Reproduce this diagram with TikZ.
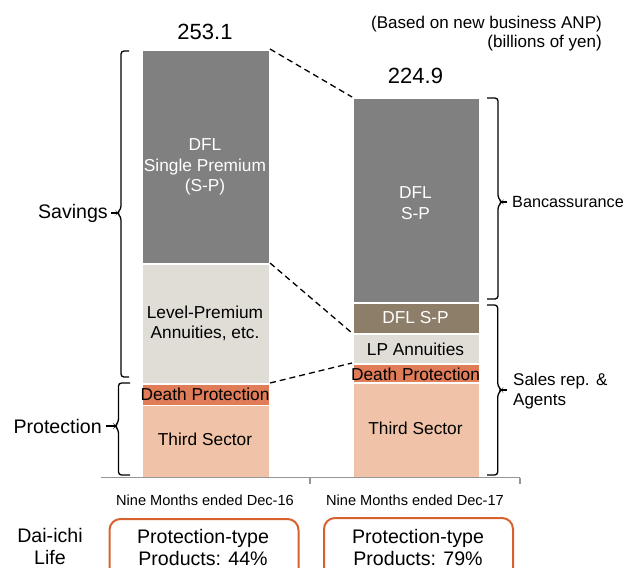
\documentclass[tikz,border=0pt]{standalone}
\usepackage{fontspec}
\setmainfont{Liberation Sans}
\definecolor{spgray}{RGB}{128,128,128}
\definecolor{lpgray}{RGB}{224,220,214}
\definecolor{deathred}{RGB}{224,124,88}
\definecolor{thirdpeach}{RGB}{240,195,168}
\definecolor{spbrown}{RGB}{141,126,106}
\definecolor{boxorange}{RGB}{214,98,48}
\definecolor{axisgray}{RGB}{150,150,150}
\begin{document}
\begin{tikzpicture}[x=1pt,y=-1pt,
  seg/.style={draw=white,line width=1.5pt,inner sep=0pt,minimum width=127pt,anchor=north west},
  bartext/.style={font=\fontsize{17.3}{20.5}\selectfont,align=center,inner sep=0pt},
  sidetext/.style={font=\fontsize{17}{20.5}\selectfont,align=left,inner sep=0pt},
  bigtext/.style={font=\fontsize{19.6}{22}\selectfont,align=center,inner sep=0pt},
  brace/.style={line width=1.3pt,rounded corners=3pt},
  link/.style={dashed,dash pattern=on 6pt off 4pt,line width=1.3pt},
  sharebox/.style={draw=boxorange,line width=2pt,rounded corners=11pt,minimum width=189pt,minimum height=70pt,anchor=north west,inner sep=0pt}]
\useasboundingbox (0,0) rectangle (630,568);
\clip (0,0) rectangle (630,568);

% left column: nine months ended Dec-16
\node[seg,fill=spgray,minimum height=214pt] (lsp) at (141.5,49) {};
\node[seg,fill=lpgray,minimum height=120pt] (llp) at (141.5,263) {};
\node[seg,fill=deathred,minimum height=21.5pt] (ldp) at (141.5,383) {};
\node[seg,fill=thirdpeach,minimum height=72.5pt] (lts) at (141.5,404.5) {};

% right column: nine months ended Dec-17
\node[seg,fill=spgray,minimum height=205pt] (rsp) at (352,97) {};
\node[seg,fill=spbrown,minimum height=31pt] (rsa) at (352,302) {};
\node[seg,fill=lpgray,minimum height=30pt] (rlp) at (352,333) {};
\node[seg,fill=deathred,minimum height=19pt] (rdp) at (352,363) {};
\node[seg,fill=thirdpeach,minimum height=95pt] (rts) at (352,382) {};

% segment labels
\node[bartext,text=white] (tlsp) at (205,167) {DFL\\Single Premium\\(S-P)};
\node[bartext] (tllp) at (205,323.5) {Level-Premium\\Annuities, etc.};
\node[bartext] (tldp) at (205,394) {Death Protection};
\node[bartext] (tlts) at (205,439) {Third Sector};
\node[bartext,text=white] (trsp) at (415.5,203) {DFL\\S-P};
\node[bartext,text=white] (trsa) at (415.5,318) {DFL S-P};
\node[bartext] (trlp) at (415.5,349) {LP Annuities};
\node[bartext] (trdp) at (415.5,374) {Death Protection};
\node[bartext] (trts) at (415.5,428) {Third Sector};

% totals
\node[font=\fontsize{22}{26}\selectfont,inner sep=0pt] (ltot) at (205,32) {253.1};
\node[font=\fontsize{22}{26}\selectfont,inner sep=0pt] (rtot) at (415.5,76) {224.9};

% notes
\node[sidetext,anchor=east] (note1) at (602,24) {(Based on new business ANP)};
\node[sidetext,anchor=east] (note2) at (602,43) {(billions of yen)};

% dashed links between the columns
\draw[link] (lsp.north east) -- (rsp.north west);
\draw[link] (llp.north east) -- (rlp.north west);
\draw[link] (ldp.north east) -- (rdp.north west);

% left braces
\coordinate (sav) at (111,213);
\coordinate (pro) at (106,426);
\draw[brace] (129,51) -- (121,51) -- (121,209) -- (117,213) -- (121,217) -- (121,377) -- (129,377);
\draw[line width=1.3pt] (sav) -- (117,213);
\draw[brace] (130,383) -- (118.5,383) -- (118.5,422) -- (115,426) -- (118.5,430) -- (118.5,475) -- (130,475);
\draw[line width=1.3pt] (pro) -- (115,426);
\node[bigtext,anchor=east] (tsav) at (108,213) {Savings};
\node[bigtext,anchor=east] (tpro) at (102,426) {Protection};

% right braces
\coordinate (ban) at (507,202);
\coordinate (sal) at (507,390);
\draw[brace] (487,98) -- (498,98) -- (498,198) -- (502,202) -- (498,206) -- (498,299) -- (487,299);
\draw[line width=1.3pt] (502,202) -- (ban);
\draw[brace] (487,305) -- (497.7,305) -- (497.7,386) -- (501.5,390) -- (497.7,394) -- (497.7,475) -- (487,475);
\draw[line width=1.3pt] (501.5,390) -- (sal);
\node[font=\fontsize{16.2}{20}\selectfont,inner sep=0pt,anchor=west] (tban) at (512,202) {Bancassurance};
\node[sidetext,anchor=west] (tsal) at (513,391) {Sales rep. \&\\Agents};

% axis
\draw[axisgray,line width=1.4pt] (101,477.7) -- (520,477.7);
\draw[axisgray,line width=1.2pt] (310,477.7) -- (310,484);
\draw[axisgray,line width=1.2pt] (520,477.7) -- (520,484);

\node[font=\fontsize{14.6}{17}\selectfont,inner sep=0pt] (per1) at (205,500) {Nine Months ended Dec-16};
\node[font=\fontsize{14.6}{17}\selectfont,inner sep=0pt] (per2) at (415,500) {Nine Months ended Dec-17};

% protection-type share
\node[bigtext] (dai) at (50,546) {Dai-ichi\\Life};
\node[sharebox] (box1) at (108.5,518) {};
\node[sharebox] (box2) at (323,517) {};
\node[bigtext] (share1) at (203,547) {Protection-type\\Products: 44\%};
\node[bigtext] (share2) at (418,547) {Protection-type\\Products: 79\%};
\end{tikzpicture}
\end{document}
